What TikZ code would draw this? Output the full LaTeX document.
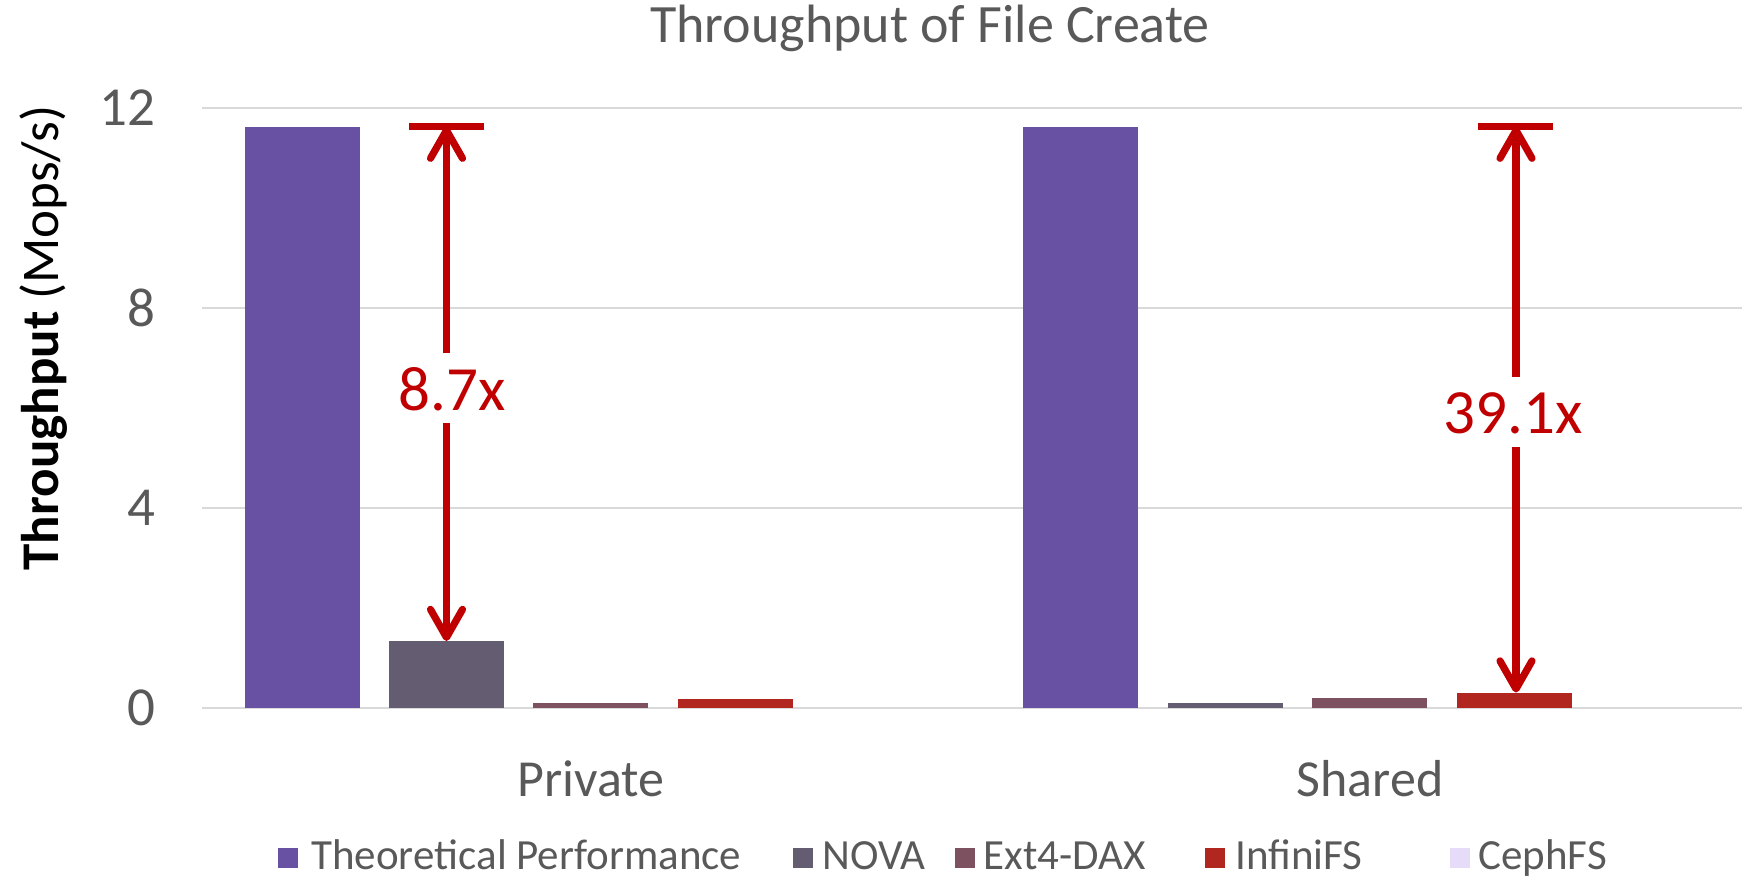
\documentclass[tikz,border=0pt]{standalone}
\usepackage{fontspec}
\setmainfont{Carlito}
\usetikzlibrary{arrows.meta}
\definecolor{theo}{RGB}{104,80,162}
\definecolor{nova}{RGB}{100,92,113}
\definecolor{extdax}{RGB}{125,81,95}
\definecolor{infini}{RGB}{178,38,32}
\definecolor{ceph}{RGB}{230,220,250}
\definecolor{gapred}{RGB}{192,0,0}
\definecolor{txtgray}{RGB}{89,89,89}
\definecolor{gridgray}{RGB}{217,217,217}
\begin{document}
\begin{tikzpicture}[x=0.5pt,y=-0.5pt,
  gridline/.style={draw=gridgray,line width=1.1pt},
  ticklabel/.style={anchor=east,text=txtgray,font=\fontsize{27.5}{30}\selectfont,inner sep=0pt},
  catlabel/.style={text=txtgray,font=\fontsize{26}{30}\selectfont},
  legtext/.style={anchor=base west,text=txtgray,font=\fontsize{21.5}{24}\selectfont,inner sep=0pt},
  gaplabel/.style={text=gapred,font=\fontsize{31.5}{34}\selectfont,inner sep=0pt},
  gaparrow/.style={draw=gapred,line width=3.6pt,-{Straight Barb[length=14pt,width=16pt,round]}},
  gapcap/.style={draw=gapred,line width=3.3pt}]
\useasboundingbox (0,0) rectangle (1742,879);

% title
\node[anchor=base,text=txtgray,font=\fontsize{27}{30}\selectfont,inner sep=0pt] (title) at (930,42) {Throughput of File Create};

% gridlines and tick labels (50 px per Mops/s, zero at y=708)
\foreach \v/\nm in {0/t0,4/t4,8/t8,12/t12}{
  \draw[gridline] (202,708-50*\v) -- (1742,708-50*\v);
  \node[ticklabel] (\nm) at (156,708-50*\v) {\v};
}

% y axis title
\node[rotate=90,font=\fontsize{26.5}{30}\selectfont] (ytitle) at (44,338)
  {{\bfseries Throughput} (Mops/s)};

% bars: centre x / value / colour
\foreach \cx/\val/\col in {
  302/11.63/theo, 446.5/1.34/nova, 590.5/0.10/extdax, 735/0.18/infini,
  1080.5/11.63/theo, 1225/0.095/nova, 1369.5/0.196/extdax, 1514/0.298/infini}{
  \fill[\col] (\cx-57.5,708) rectangle (\cx+57.5,708-50*\val);
}

% category labels
\node[catlabel] (private) at (591,779) {Private};
\node[catlabel] (shared) at (1370,779) {Shared};

% gap annotation, private
\coordinate (ptop) at (446.5,126.7);
\coordinate (pbot) at (446.5,708-67);
\draw[gapcap] (409,126.7) -- (484,126.7);
\node[gaplabel] (plab) at (452,389) {8.7x};
\draw[gaparrow] (ptop |- 0,353) -- (ptop);
\draw[gaparrow] (pbot |- 0,423) -- (pbot);

% gap annotation, shared
\coordinate (stop) at (1516,126.7);
\coordinate (sbot) at (1516,708-15.5);
\draw[gapcap] (1478,126.7) -- (1553,126.7);
\node[gaplabel] (slab) at (1513,413) {39.1x};
\draw[gaparrow] (stop |- 0,377) -- (stop);
\draw[gaparrow] (sbot |- 0,447) -- (sbot);

% legend
\foreach \mx/\tx/\col/\lbl/\nm in {
  278/311/theo/Theoretical Performance/l1,
  793/822/nova/NOVA/l2,
  955/983/extdax/Ext4-DAX/l3,
  1205/1235/infini/InfiniFS/l4,
  1450/1478/ceph/CephFS/l5}{
  \fill[\col] (\mx,848) rectangle (\mx+20,868);
  \node[legtext] (\nm) at (\tx,869) {\lbl};
}
\end{tikzpicture}
\end{document}
